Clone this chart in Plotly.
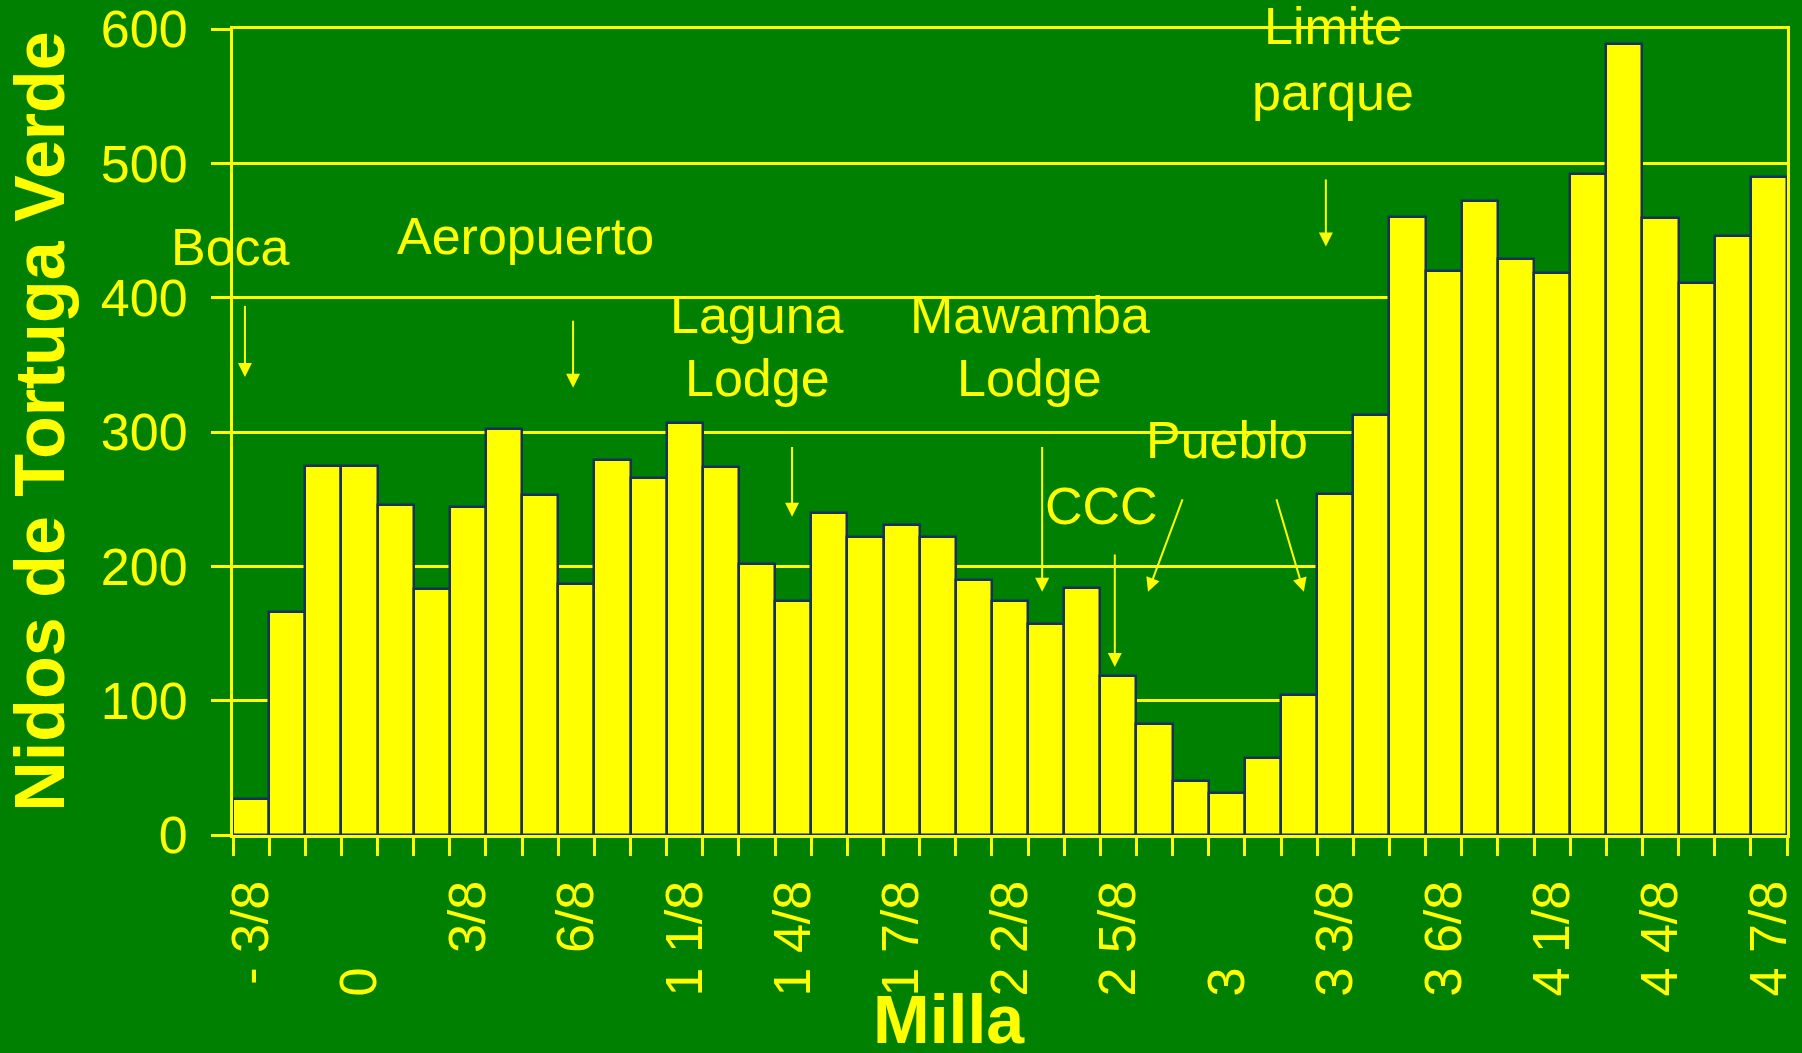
import numpy as np
import plotly.graph_objects as go

# ---- data ----
categories = ["- 3/8", "- 2/8", "- 1/8", "0", "1/8", "2/8", "3/8", "4/8", "5/8", "6/8", "7/8",
              "1", "1 1/8", "1 2/8", "1 3/8", "1 4/8", "1 5/8", "1 6/8", "1 7/8",
              "2", "2 1/8", "2 2/8", "2 3/8", "2 4/8", "2 5/8", "2 6/8", "2 7/8",
              "3", "3 1/8", "3 2/8", "3 3/8", "3 4/8", "3 5/8", "3 6/8", "3 7/8",
              "4", "4 1/8", "4 2/8", "4 3/8", "4 4/8", "4 5/8", "4 6/8", "4 7/8"]
nests = [27, 166, 275, 275, 246, 183, 244, 302, 253, 187, 279, 266, 307, 274, 202, 174,
         240, 222, 231, 222, 190, 174, 157, 184, 118, 83, 40, 31, 57, 104, 254, 313,
         460, 420, 472, 429, 418, 492, 589, 459, 411, 446, 490]
tick_labels = ["- 3/8", "0", "3/8", "6/8", "1 1/8", "1 4/8", "1 7/8", "2 2/8", "2 5/8",
               "3", "3 3/8", "3 6/8", "4 1/8", "4 4/8", "4 7/8"]
y_ticks = [0, 100, 200, 300, 400, 500, 600]

YEL = "#FFFF00"
GREEN = "#008000"
EDGE = "#17305C"
FONT = "Arial, Liberation Sans, sans-serif"

x = np.arange(len(categories))
tickvals = [categories.index(t) for t in tick_labels]
ticktext = [t if "/" in t else t + "\u00a0" * 6 for t in tick_labels]

fig = go.Figure(go.Bar(
    x=x, y=nests, width=1,
    marker=dict(color=YEL, line=dict(color=EDGE, width=2.5)),
    hoverinfo="skip",
))

# text labels: (text, x, y, xref, yref)
labels = [
    ("Boca", (230 - 233) / 1554, 438, "paper", "y"),
    ("Aeropuerto", 7.58, 446, "x", "y"),
    ("Laguna", 14.0, 387, "x", "y"),
    ("Lodge", 14.0, 340, "x", "y"),
    ("Mawamba", 21.55, 387, "x", "y"),
    ("Lodge", 21.55, 340, "x", "y"),
    ("CCC", 23.52, 245, "x", "y"),
    ("Pueblo", 27.0, 294, "x", "y"),
    ("Limite", 29.94, 1.004, "x", "paper"),
    ("parque", 29.94, 553, "x", "y"),
]
arrows = [  # (tail_x, tail_y, head_x, head_y)
    (-0.17, 395, -0.17, 341),
    (8.91, 384, 8.91, 333),
    (14.97, 290, 14.97, 237),
    (21.89, 290, 21.89, 181),
    (23.90, 210, 23.90, 125),
    (25.79, 251, 24.82, 181),
    (28.36, 251, 29.13, 181),
    (29.74, 489, 29.74, 438),
]

annotations = []
for t, ax_, ay_, xr, yr in labels:
    annotations.append(dict(text=t, x=ax_, y=ay_, xref=xr, yref=yr, showarrow=False,
                            xanchor="center", yanchor="middle",
                            font=dict(size=52, color=YEL, family=FONT)))
for tx, ty, hx, hy in arrows:
    annotations.append(dict(text="", x=hx, y=hy, ax=tx, ay=ty, xref="x", yref="y",
                            axref="x", ayref="y", showarrow=True, arrowhead=2,
                            arrowsize=1.4, arrowwidth=2, arrowcolor=YEL, standoff=0))
annotations.append(dict(text="<b>Nidos de Tortuga Verde</b>", x=-0.1242, y=0.514,
                        xref="paper", yref="paper", showarrow=False, textangle=-90,
                        xanchor="center", yanchor="middle",
                        font=dict(size=70, color=YEL, family=FONT)))
annotations.append(dict(text="<b>Milla</b>", x=(949 - 233) / 1554, y=-0.2288,
                        xref="paper", yref="paper", showarrow=False,
                        xanchor="center", yanchor="middle",
                        font=dict(size=68, color=YEL, family=FONT)))

fig.update_layout(
    width=1802, height=1053,
    paper_bgcolor=GREEN, plot_bgcolor=GREEN,
    margin=dict(l=233, r=15, t=29, b=218, autoexpand=False),
    showlegend=False, bargap=0,
    font=dict(family=FONT, color=YEL),
    annotations=annotations,
    xaxis=dict(range=[-0.5, 42.5], tickvals=tickvals, ticktext=ticktext, tickangle=-90,
               tickfont=dict(size=52, color=YEL, family=FONT), ticks="",
               showline=True, linecolor=YEL, linewidth=3, mirror=True,
               showgrid=False, zeroline=False, automargin=False,
               ticklabelstandoff=22,
               minor=dict(ticks="outside", ticklen=18, tickwidth=3, tickcolor=YEL,
                          tick0=-0.5, dtick=1, showgrid=False)),
    yaxis=dict(range=[0, 600], tickvals=y_ticks, ticks="outside", ticklen=19, tickwidth=3,
               tickcolor=YEL, tickfont=dict(size=52, color=YEL, family=FONT),
               showgrid=True, gridcolor=YEL, gridwidth=3,
               showline=True, linecolor=YEL, linewidth=3, mirror=True,
               zeroline=False, automargin=False, ticklabelstandoff=13),
)

fig.write_html("out.html", config={"displayModeBar": False},
               post_script="document.body.style.margin='0';document.body.style.overflow='hidden';")
